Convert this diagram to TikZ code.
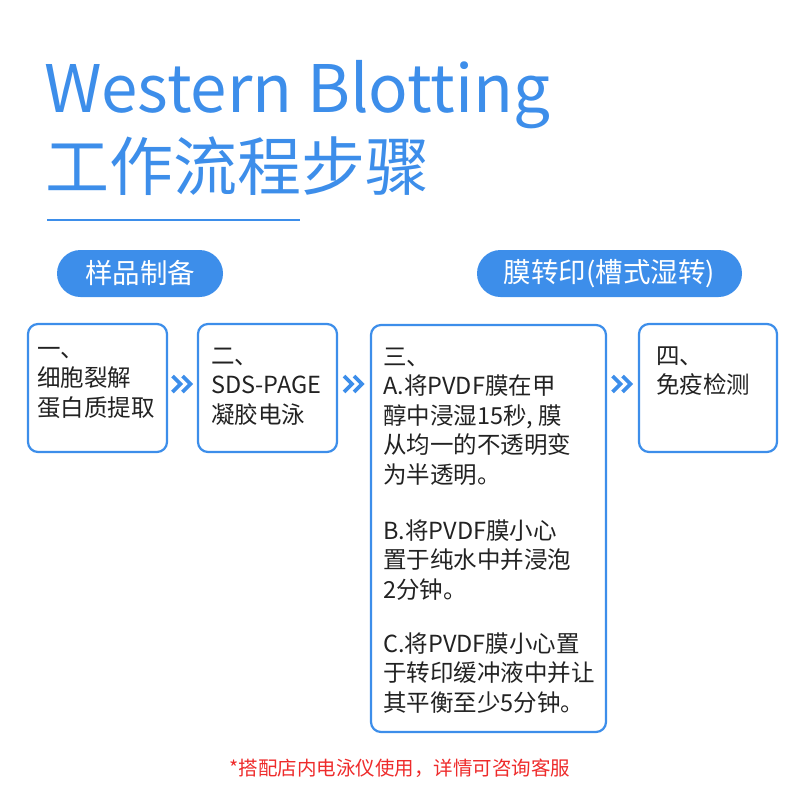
\documentclass[tikz,border=0pt]{standalone}
\usepackage{fontspec}
\setmainfont{Noto Sans CJK SC}
\usetikzlibrary{calc}
\definecolor{wbblue}{HTML}{3D8EEA}
\definecolor{wbred}{HTML}{EE2B2B}
\definecolor{wbtext}{HTML}{222222}
\begin{document}
\begin{tikzpicture}[x=1pt,y=-1pt,
  stepbox/.style={draw=wbblue, line width=2.2pt, rounded corners=10pt, fill=white, inner sep=0},
  pill/.style={fill=wbblue, rounded corners=23.5pt, text=white, font=\fontsize{27.5}{32}\selectfont, minimum height=47pt, inner sep=0},
  body/.style={text=wbtext, font=\fontsize{23.5}{29.5}\selectfont, align=left, anchor=base west, inner sep=0},
  chev/.style={draw=wbblue, line width=3.6pt, line cap=butt, line join=miter},
  chevpair/.pic={\draw[chev] (-10,-8) -- (-2,0) -- (-10,8); \draw[chev] (0,-8) -- (8,0) -- (0,8);}]
\useasboundingbox (0,0) rectangle (800,800);
% title
\node[anchor=base west, inner sep=0, text=wbblue, font=\fontsize{65.5}{66}\selectfont] (title) at (44,112) {Western Blotting};
\node[anchor=base west, inner sep=0, text=wbblue, font=\fontsize{64}{64}\selectfont] (subtitle) at (45,190) {工作流程步骤};
\coordinate (rulea) at (47,220);
\coordinate (ruleb) at (300,220);
\draw[wbblue, line width=1.2pt] (rulea) -- (ruleb);
% pills
\node[pill, minimum width=166pt] (pillA) at (140,273.5) {样品制备};
\node[pill, minimum width=265pt] (pillB) at (609.5,273.5) {膜转印(槽式湿转)};
% boxes
\node[stepbox, minimum width=139pt, minimum height=128pt] (b1) at (97.5,388) {};
\node[stepbox, minimum width=139pt, minimum height=128pt] (b2) at (267.5,388) {};
\node[stepbox, minimum width=235pt, minimum height=407pt] (b3) at (488.5,528.5) {};
\node[stepbox, minimum width=138pt, minimum height=128pt] (b4) at (708,388) {};
% box texts (anchor = baseline of last line)
\node[body] (t1) at (37,416) {一、\\细胞裂解\\蛋白质提取};
\node[body] (t2) at (211,423) {二、\\SDS-PAGE\\凝胶电泳};
\node[body] (t3a) at (383,483) {三、\\A.将PVDF膜在甲\\醇中浸湿15秒, 膜\\从均一的不透明变\\为半透明。};
\node[body] (t3b) at (383,598) {B.将PVDF膜小心\\置于纯水中并浸泡\\2分钟。};
\node[body] (t3c) at (383,711) {C.将PVDF膜小心置\\于转印缓冲液中并让\\其平衡至少5分钟。};
\node[body] (t4) at (656,393.5) {四、\\免疫检测};
% chevrons
\pic at ($(b1.east)!0.5!(b2.west)+(0,-4)$) {chevpair};
\pic at ($(b2.east)!0.5!(b3.west |- b2.east)+(0,-4)$) {chevpair};
\pic at ($(b3.east |- b4.west)!0.5!(b4.west)+(0,-4)$) {chevpair};
% footer
\node[text=wbred, inner sep=0, font=\fontsize{19.5}{20}\selectfont] (foot) at (400,768) {*搭配店内电泳仪使用，详情可咨询客服};
\end{tikzpicture}
\end{document}
